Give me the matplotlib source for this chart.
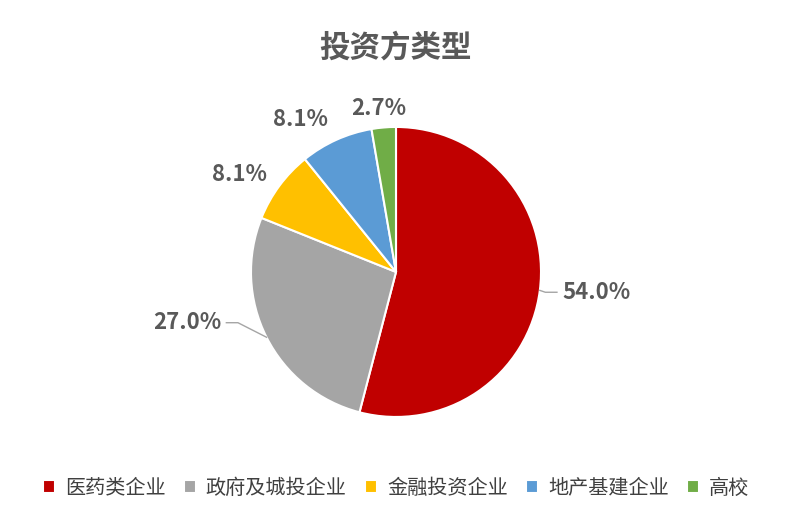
import numpy as np
import matplotlib.pyplot as plt
plt.rcParams['font.family'] = ['Noto Sans CJK SC', 'DejaVu Sans']

categories = ['医药类企业', '政府及城投企业', '金融投资企业', '地产基建企业', '高校']
values = [54.0, 27.0, 8.1, 8.1, 2.7]
labels = ['54.0%', '27.0%', '8.1%', '8.1%', '2.7%']
colors = ['#C00000', '#A5A5A5', '#FFC000', '#5B9BD5', '#70AD47']
label_xy = [(1.38, -0.14), (-1.44, -0.35), (-1.08, 0.67), (-0.66, 1.05), (-0.12, 1.13)]

fig = plt.figure(figsize=(7.92, 5.22), dpi=100)
ax = fig.add_axes([0.5 - 145/792, 0.479 - 145/522, 290/792, 290/522])
wedges, _ = ax.pie(values, colors=colors, startangle=90, counterclock=False,
                   wedgeprops=dict(edgecolor='white', linewidth=1.5), radius=1)
for i, w in enumerate(wedges):
    ang = np.deg2rad((w.theta1 + w.theta2) / 2)
    x, y = label_xy[i]
    ax.text(x, y, labels[i], ha='center', va='center', fontsize=16,
            fontweight='bold', color='#595959')
    if i < 2:
        x0, y0 = 1.0*np.cos(ang), 1.0*np.sin(ang)
        xe = x - np.sign(x)*0.27
        ax.plot([x0, xe + np.sign(x)*0.0 - np.sign(x)*0.08, xe], [y0, y, y],
                color='#A5A5A5', lw=1, clip_on=False)
ax.set_xlim(-1, 1); ax.set_ylim(-1, 1); ax.set_aspect('equal')
fig.text(0.5, 1 - 48/522, '投资方类型', ha='center', va='center', fontsize=22,
         fontweight='bold', color='#595959')
fig.legend(wedges, categories, loc='center', bbox_to_anchor=(0.5, 1 - 488/522),
           ncol=5, frameon=False, fontsize=14.5, handlelength=0.6, handleheight=0.6,
           columnspacing=0.9, handletextpad=0.5, labelcolor='#404040')
fig.savefig('out.png', dpi=100)
